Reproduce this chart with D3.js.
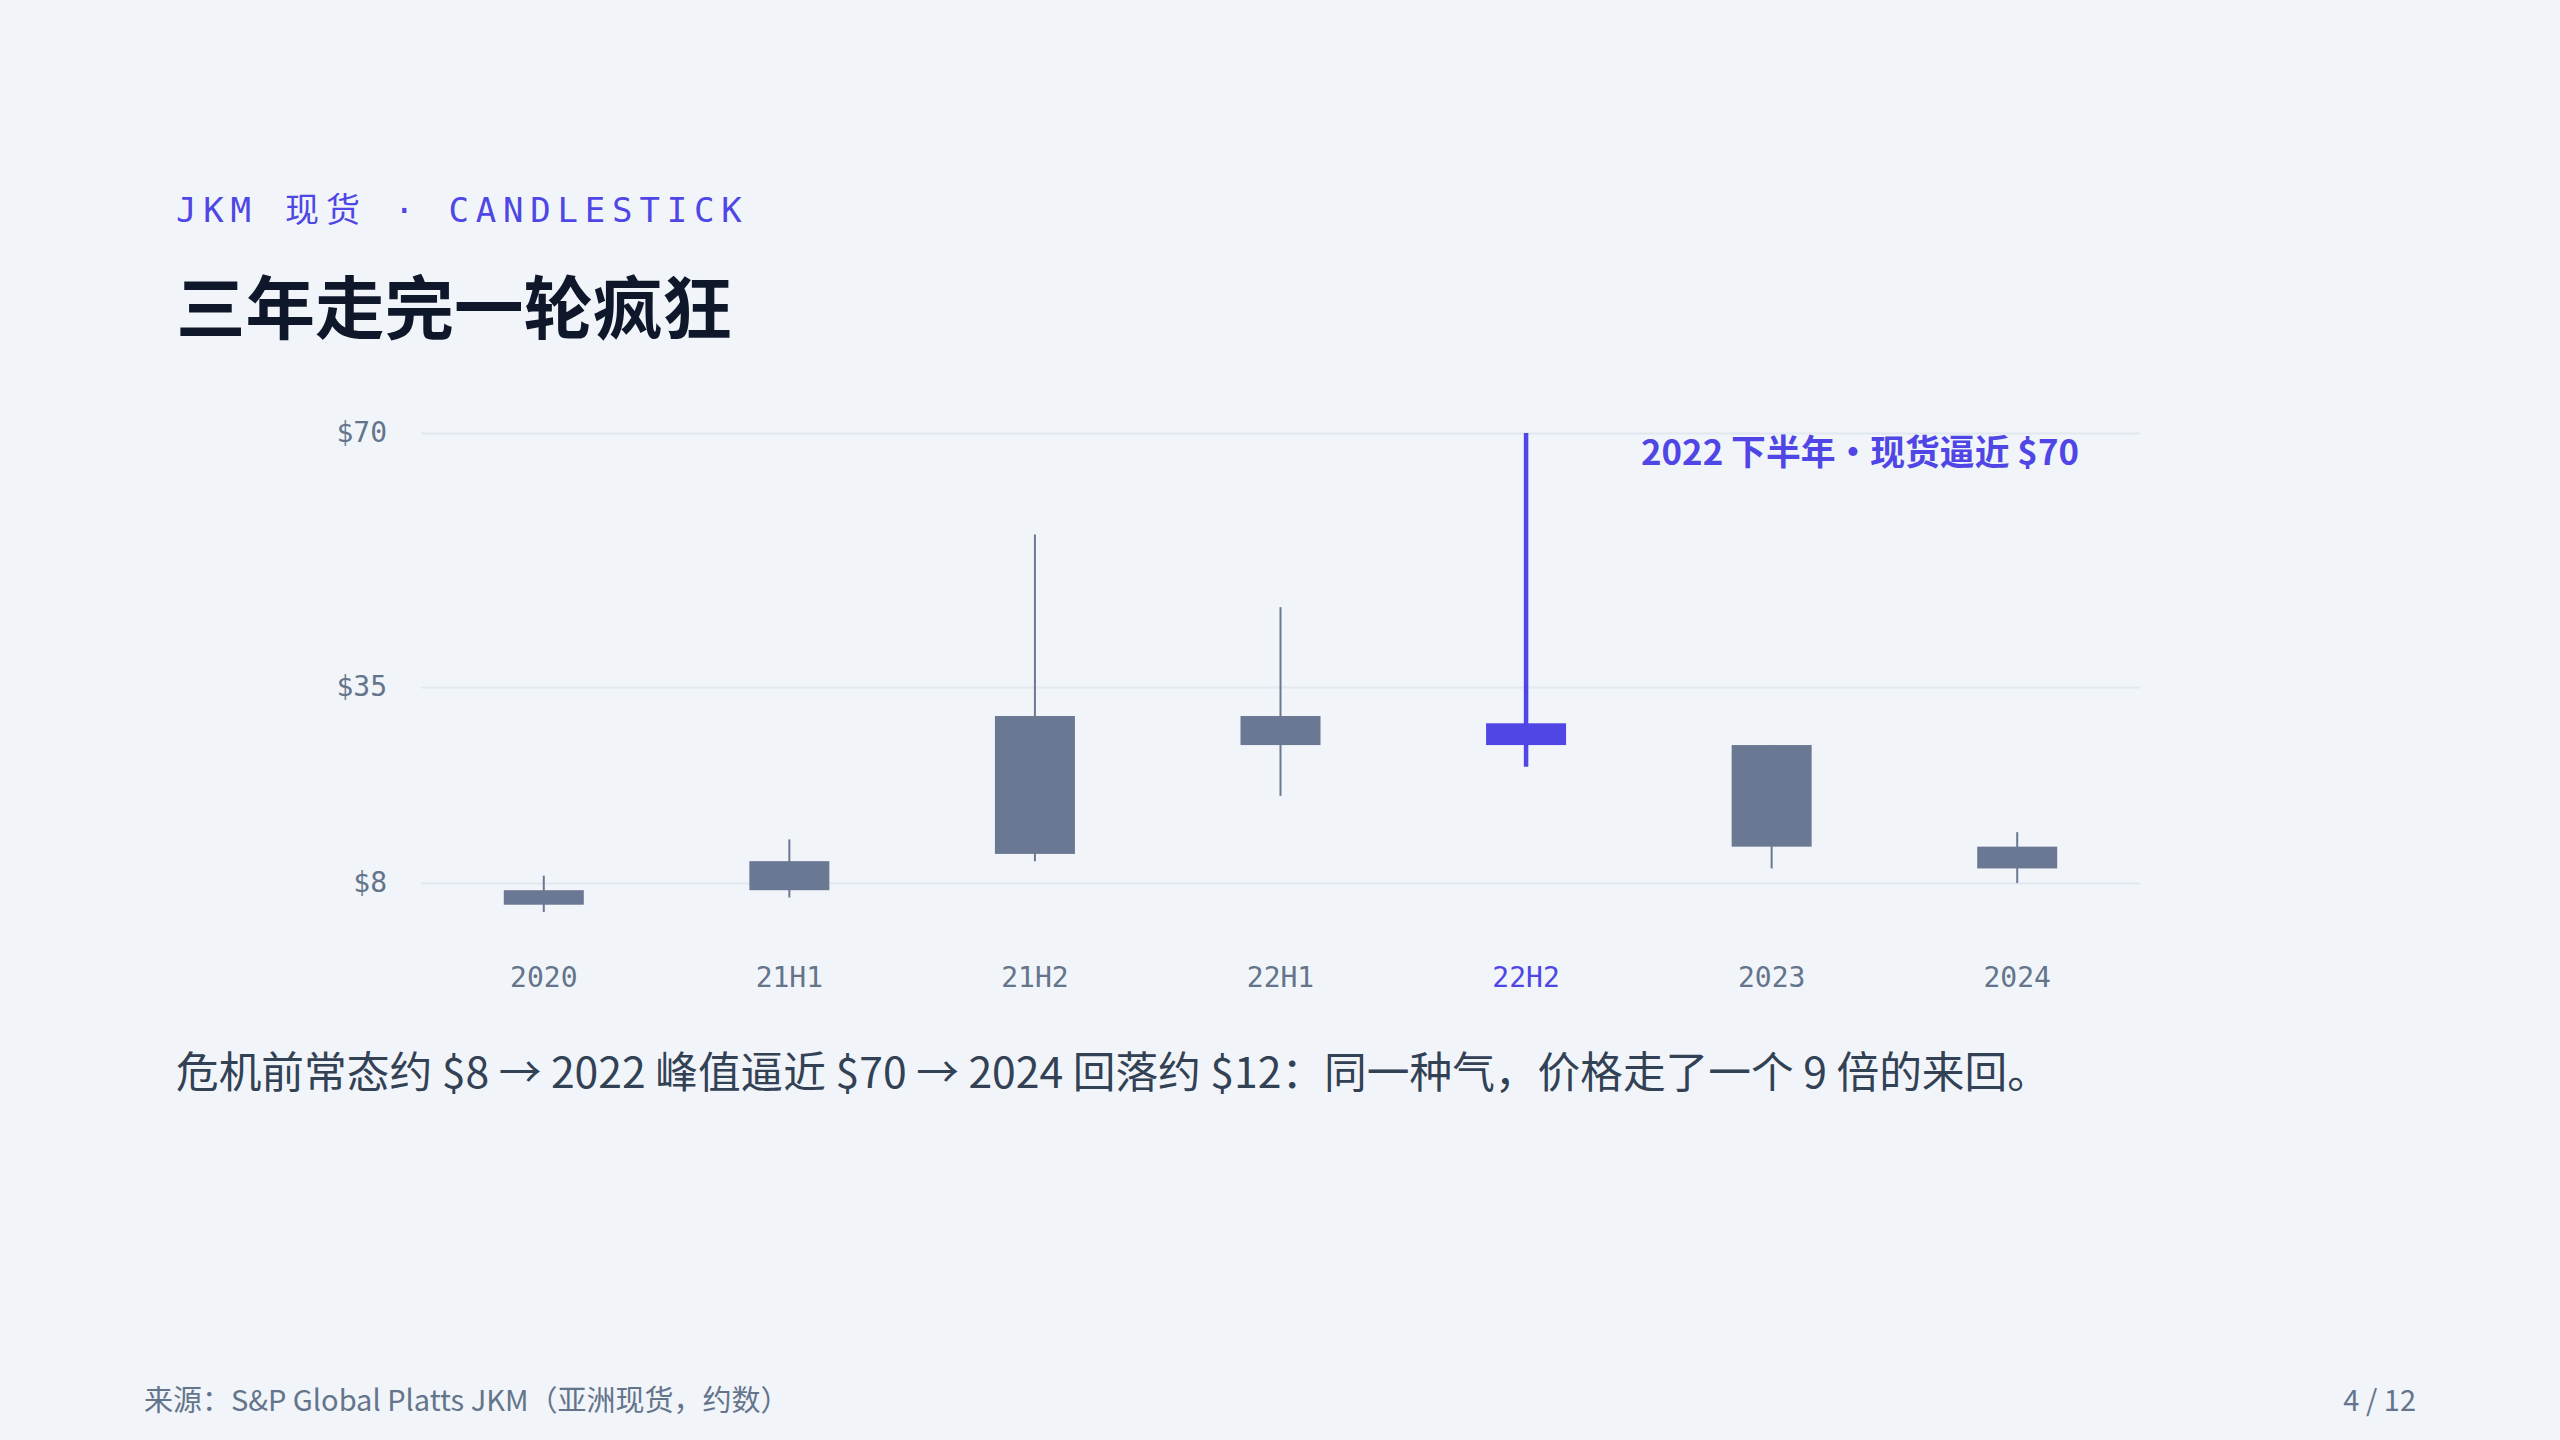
<!DOCTYPE html>
<html>
<head>
<meta charset="utf-8">
<script src="https://cdn.jsdelivr.net/npm/d3@7"></script>
<style>
  html, body { margin: 0; padding: 0; background: #f1f5f9; }
  svg { display: block; }
</style>
</head>
<body>
<div id="chart"></div>
<script>
// candle data ($/MMBtu, approx)
var periods = ['2020', '21H1', '21H2', '22H1', '22H2', '2023', '2024'];
var opens  = [7, 7, 12, 31, 27, 27, 13];
var closes = [5, 11, 31, 27, 30, 13, 10];
var highs  = [9, 14, 56, 46, 70, 27, 15];
var lows   = [4, 6, 11, 20, 24, 10, 8];
var yTicks = [8, 35, 70];
var highlight = '22H2';

const width = 2560;
const height = 1440;
const plot = { left: 421, right: 2140, top: 433, bottom: 941 };

const sans = '"Noto Sans CJK SC", "Noto Sans", sans-serif';
const mono = '"DejaVu Sans Mono", "Noto Sans CJK SC", monospace';
const grey = '#6a7893';
const accent = '#4f46e5';

var svg = d3.select('#chart')
    .append('svg')
        .attr('width', width)
        .attr('height', height)
        .style('background', '#f1f5f9');

// header
svg.append('text')
    .text('JKM 现货 · CANDLESTICK')
    .attr('x', 176)
    .attr('y', 222)
    .attr('font-family', mono)
    .attr('font-size', 34)
    .attr('letter-spacing', '0.2em')
    .attr('fill', accent);

svg.append('text')
    .text('三年走完一轮疯狂')
    .attr('x', 176)
    .attr('y', 334)
    .attr('font-family', sans)
    .attr('font-weight', 700)
    .attr('font-size', 69.5)
    .attr('fill', '#0f172a');

// scales
var x = d3.scaleBand()
    .domain(periods)
    .range([plot.left, plot.right]);

var y = d3.scaleLinear()
    .domain([0, 70])
    .range([plot.bottom, plot.top]);

// y grid + labels
var gY = svg.append('g')
    .attr('transform', `translate(${plot.left},0)`)
    .call(d3.axisLeft(y)
        .tickValues(yTicks)
        .tickSize(-(plot.right - plot.left))
        .tickPadding(34)
        .tickFormat(d => '$' + d));
gY.select('.domain').remove();
gY.selectAll('line').attr('stroke', '#e2e8f0').attr('stroke-width', 2);
gY.selectAll('text')
    .attr('font-family', mono)
    .attr('font-size', 28)
    .attr('fill', '#64748b');

// x labels
var gX = svg.append('g')
    .attr('transform', `translate(0,${plot.bottom})`)
    .call(d3.axisBottom(x).tickSize(0).tickPadding(26));
gX.select('.domain').remove();
gX.selectAll('text')
    .attr('font-family', mono)
    .attr('font-size', 28)
    .attr('fill', d => d === highlight ? accent : '#64748b');

// candles
var candles = periods.map((p, i) => ({
    period: p, open: opens[i], close: closes[i], high: highs[i], low: lows[i]
}));

var bodyW = 80;

var g = svg.append('g');

g.selectAll('.wick')
    .data(candles)
    .enter()
    .append('line')
        .attr('class', 'wick')
        .attr('x1', d => x(d.period) + x.bandwidth() / 2)
        .attr('x2', d => x(d.period) + x.bandwidth() / 2)
        .attr('y1', d => y(d.high))
        .attr('y2', d => y(d.low))
        .attr('stroke', d => d.period === highlight ? accent : grey)
        .attr('stroke-width', d => d.period === highlight ? 4.5 : 2);

g.selectAll('.body')
    .data(candles)
    .enter()
    .append('rect')
        .attr('class', 'body')
        .attr('x', d => x(d.period) + x.bandwidth() / 2 - bodyW / 2)
        .attr('width', bodyW)
        .attr('y', d => y(Math.max(d.open, d.close)))
        .attr('height', d => y(Math.min(d.open, d.close)) - y(Math.max(d.open, d.close)))
        .attr('fill', d => d.period === highlight ? accent : grey);

// annotation for the peak
var peak = candles.find(d => d.period === highlight);
svg.append('text')
    .text('2022 下半年·现货逼近 $70')
    .attr('x', x(highlight) + x.bandwidth() / 2 + 115)
    .attr('y', y(peak.high) + 32)
    .attr('font-family', sans)
    .attr('font-weight', 700)
    .attr('font-size', 34.8)
    .attr('fill', accent);

// takeaway line
svg.append('text')
    .text('危机前常态约 $8 → 2022 峰值逼近 $70 → 2024 回落约 $12：同一种气，价格走了一个 9 倍的来回。')
    .attr('x', 176)
    .attr('y', 1088)
    .attr('font-family', sans)
    .attr('font-size', 42.7)
    .attr('fill', '#334155');

// footer
svg.append('text')
    .text('来源：S&P Global Platts JKM（亚洲现货，约数）')
    .attr('x', 144)
    .attr('y', 1411)
    .attr('font-family', sans)
    .attr('font-size', 29)
    .attr('fill', '#64748b');

svg.append('text')
    .text('4 / 12')
    .attr('x', 2416)
    .attr('y', 1411)
    .attr('text-anchor', 'end')
    .attr('font-family', sans)
    .attr('font-size', 29)
    .attr('fill', '#64748b');
</script>
</body>
</html>
